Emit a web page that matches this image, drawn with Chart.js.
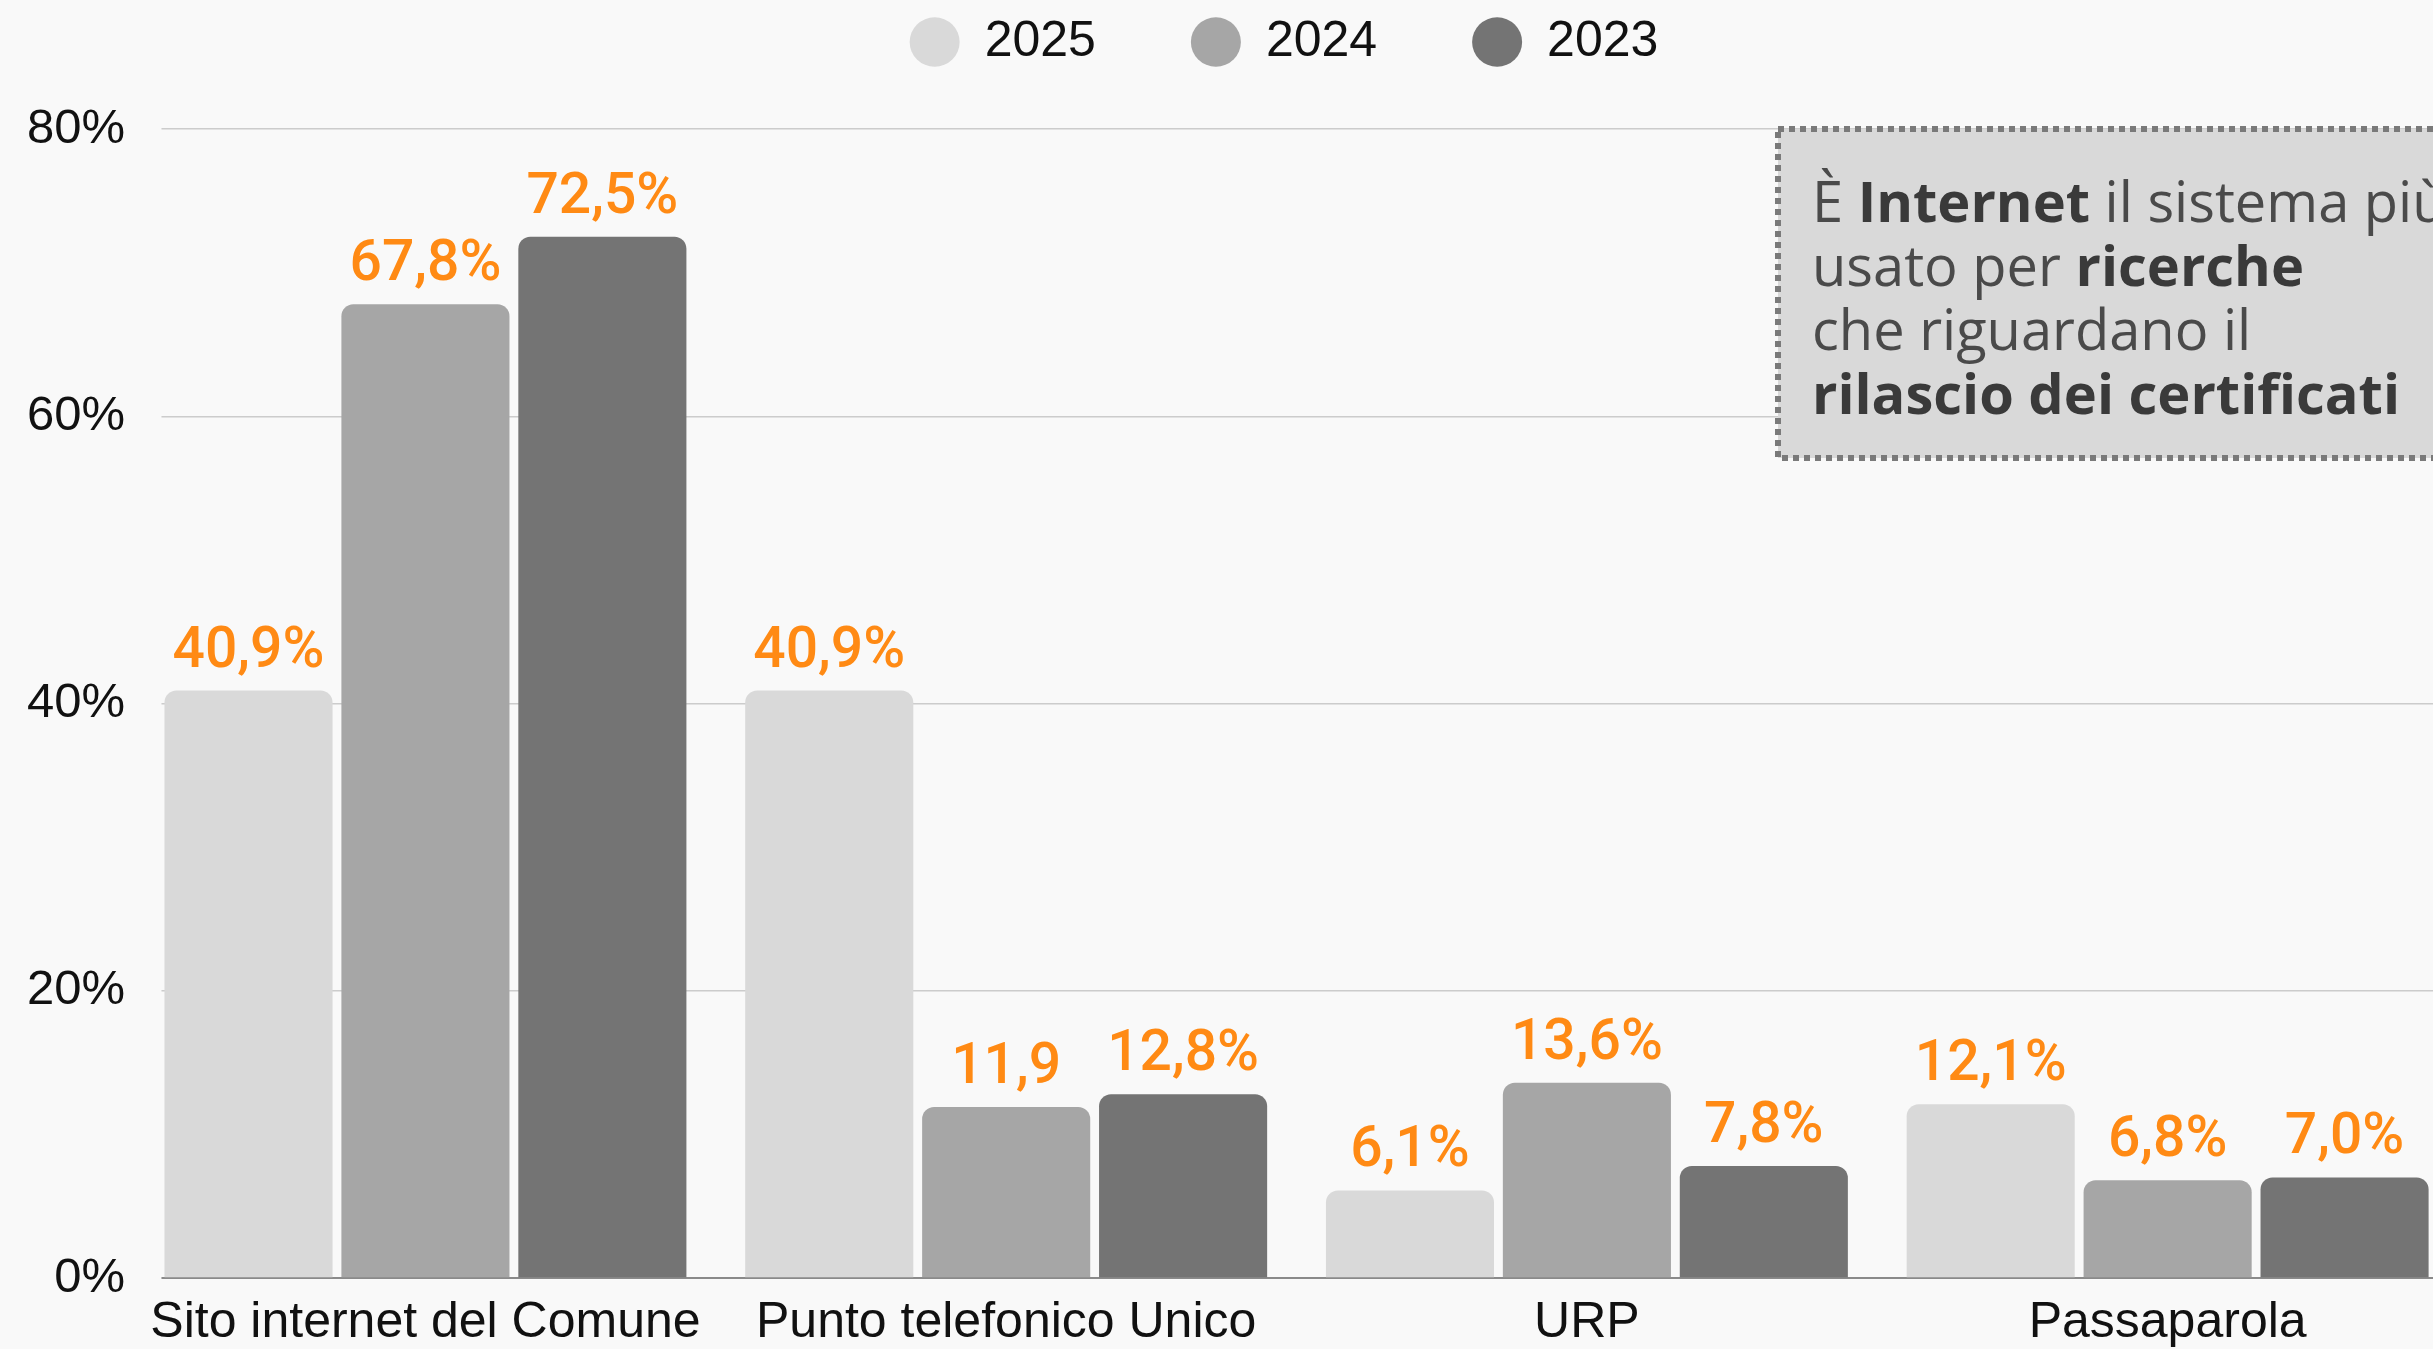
<!DOCTYPE html>
<html lang="it">
<head>
<meta charset="utf-8">
<title>Sistemi usati per il rilascio dei certificati</title>
<script src="https://cdn.jsdelivr.net/npm/chart.js@4.4.1/dist/chart.umd.min.js"></script>
<style>
    html, body {
        margin: 0;
        padding: 0;
        overflow: hidden;
        background: #f9f9f9;
    }
    #wrap {
        position: relative;
        width: 2568px;
        height: 1349px;
    }
</style>
</head>
<body>
<div id="wrap"><canvas id="myChart"></canvas></div>
<script>
// Dati del grafico
const categories = ["Sito internet del Comune", "Punto telefonico Unico", "URP", "Passaparola"];
const seriesNames = ["2025", "2024", "2023"];
const values2025 = [40.9, 40.9, 6.1, 12.1];
const values2024 = [67.8, 11.9, 13.6, 6.8];
const values2023 = [72.5, 12.8, 7.8, 7.0];
const labels2025 = ["40,9%", "40,9%", "6,1%", "12,1%"];
const labels2024 = ["67,8%", "11,9", "13,6%", "6,8%"];
const labels2023 = ["72,5%", "12,8%", "7,8%", "7,0%"];
const yTicks = [0, 20, 40, 60, 80];

const seriesColors = ["#d9d9d9", "#a6a6a6", "#747474"];
const labelColor = "#ff8a14";
const pageBg = "#f9f9f9";

// Centra la legenda sulla larghezza del canvas
const legendCenterPlugin = {
    id: "legendCenter",
    afterLayout(chart) {
        const lg = chart.legend;
        if (!lg) return;
        const shift = chart.width / 2 - (lg.left + lg.right) / 2;
        lg.left += shift;
        lg.right += shift;
    },
};

// Griglia e asse partono poco prima della prima barra
const gridTrimPlugin = {
    id: "gridTrim",
    beforeDatasetsDraw(chart) {
        const first = chart.getDatasetMeta(0).data[0];
        if (!first) return;
        const area = chart.chartArea;
        const edge = first.x - first.width / 2 - 3;
        const ctx = chart.ctx;
        ctx.save();
        ctx.fillStyle = pageBg;
        ctx.fillRect(area.left - 2, area.top - 2, edge - area.left + 2, area.bottom - area.top + 6);
        ctx.restore();
    },
};

// Etichette sopra le barre
const barLabelsPlugin = {
    id: "barLabels",
    afterDatasetsDraw(chart) {
        const ctx = chart.ctx;
        ctx.save();
        ctx.font = "500 57px Roboto, 'Noto Sans', sans-serif";
        ctx.fillStyle = labelColor;
        ctx.textAlign = "center";
        ctx.textBaseline = "alphabetic";
        chart.data.datasets.forEach((ds, i) => {
            const meta = chart.getDatasetMeta(i);
            meta.data.forEach((bar, j) => {
                ctx.fillText(ds.valueLabels[j], bar.x, bar.y - 24);
            });
        });
        ctx.restore();
    },
};

// Riquadro di nota in alto a destra
const noteLines = [
    [["È ", false], ["Internet", true], [" il sistema più", false]],
    [["usato per ", false], ["ricerche", true]],
    [["che riguardano il", false]],
    [["rilascio dei certificati", true]],
];

const notePlugin = {
    id: "noteBox",
    afterDraw(chart) {
        const ctx = chart.ctx;
        const area = chart.chartArea;
        const left = 1778;
        const top = area.top;
        const bottom = 458;
        const right = chart.width - 20;

        ctx.save();
        ctx.fillStyle = "#d9d9d9";
        ctx.fillRect(left, top, right - left, bottom - top);
        ctx.setLineDash([6, 5]);
        ctx.lineWidth = 6;
        ctx.strokeStyle = "#7a7a7a";
        ctx.strokeRect(left, top, right - left, bottom - top);
        ctx.setLineDash([]);

        ctx.textBaseline = "alphabetic";
        ctx.textAlign = "left";
        let y = 222;
        noteLines.forEach((line) => {
            let x = 1812;
            line.forEach(([text, bold]) => {
                ctx.font = (bold ? "bold " : "") + "56px 'Open Sans', sans-serif";
                ctx.fillStyle = bold ? "#3a3a3a" : "#4a4a4a";
                ctx.fillText(text, x, y);
                x += ctx.measureText(text).width;
            });
            y += 64;
        });
        ctx.restore();
    },
};

function initChart() {
    const ctx = document.getElementById("myChart");

    const seriesValues = [values2025, values2024, values2023];
    const seriesLabels = [labels2025, labels2024, labels2023];

    const data = {
        labels: categories,
        datasets: seriesNames.map((name, i) => ({
            label: name,
            data: seriesValues[i],
            valueLabels: seriesLabels[i],
            backgroundColor: seriesColors[i],
            borderRadius: 12,
            borderSkipped: "start",
            barPercentage: 0.95,
            categoryPercentage: 0.914,
        })),
    };

    const config = {
        type: "bar",
        data: data,
        options: {
            responsive: true,
            maintainAspectRatio: false,
            animation: false,
            layout: {
                padding: { top: -78, right: 110, bottom: -20, left: 17 },
            },
            plugins: {
                legend: {
                    position: "top",
                    labels: {
                        usePointStyle: true,
                        pointStyle: "circle",
                        boxWidth: 35,
                        boxHeight: 35,
                        pointStyleWidth: 50,
                        padding: 95,
                        color: "#111",
                        font: { family: "'Liberation Sans', Arial, sans-serif", size: 50 },
                    },
                },
                // spaziatore tra legenda e area del grafico
                title: {
                    display: true,
                    text: "",
                    weight: 500,
                    font: { size: 10, lineHeight: 1 },
                    padding: { top: 0, bottom: 42 },
                },
                tooltip: { enabled: false },
            },
            scales: {
                y: {
                    min: 0,
                    max: 80,
                    afterBuildTicks: (axis) => {
                        axis.ticks = yTicks.map((v) => ({ value: v }));
                    },
                    border: { display: false },
                    grid: {
                        color: "#cccccc",
                        lineWidth: 1.5,
                        drawTicks: false,
                    },
                    ticks: {
                        padding: 10,
                        color: "#111",
                        font: { family: "'Liberation Sans', Arial, sans-serif", size: 49 },
                        callback: (v) => v + "%",
                    },
                },
                x: {
                    border: { display: true, color: "#8a8a8a", width: 2 },
                    grid: { display: false, drawTicks: false },
                    ticks: {
                        padding: 18,
                        color: "#111",
                        maxRotation: 0,
                        autoSkip: false,
                        font: { family: "'Liberation Sans', Arial, sans-serif", size: 50, lineHeight: 1.1 },
                    },
                },
            },
        },
        plugins: [legendCenterPlugin, gridTrimPlugin, barLabelsPlugin, notePlugin],
    };

    return new Chart(ctx, config);
}

initChart();
</script>
</body>
</html>
